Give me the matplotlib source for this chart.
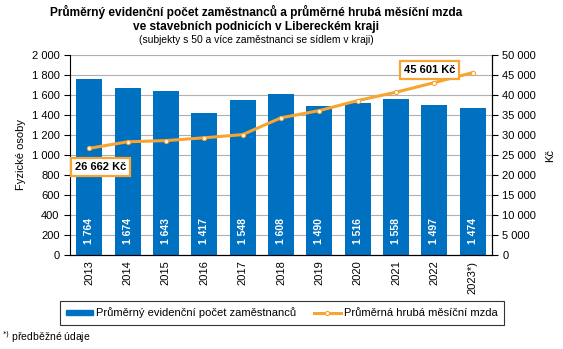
import numpy as np
import matplotlib
matplotlib.use("Agg")
import matplotlib.pyplot as plt

plt.rcParams['font.family'] = ['Liberation Sans', 'DejaVu Sans']

years = ["2013", "2014", "2015", "2016", "2017", "2018", "2019", "2020", "2021", "2022", "2023*)"]
employees = [1764, 1674, 1643, 1417, 1548, 1608, 1490, 1516, 1558, 1497, 1474]
wage = [26662, 28300, 28600, 29300, 30100, 34300, 36100, 38600, 40700, 43100, 45601]

bar_color = "#0070C0"
line_color = "#F7A432"

def fmt(v):
    return "{:,}".format(int(v)).replace(",", " ")

fig = plt.figure(figsize=(5.63, 3.49), dpi=100)
ax = fig.add_axes([70/563, 1-255/349, 422/563, 200/349])
ax2 = ax.twinx()

x = np.arange(len(years))
bars = ax.bar(x, employees, width=0.68, color=bar_color, zorder=2)
for xi, v in zip(x, employees):
    ax.text(xi, 110, fmt(v), rotation=90, ha="center", va="bottom", color="white",
            fontsize=7.5, fontweight="bold", zorder=3)

ax.set_ylim(0, 2000)
ax.set_yticks(np.arange(0, 2001, 200))
ax.set_yticklabels([fmt(v) for v in np.arange(0, 2001, 200)], fontsize=8)
ax.set_xlim(-0.5, len(years) - 0.5)
ax.set_xticks(x)
ax.set_xticklabels(years, rotation=90, fontsize=8)
ax.grid(axis="y", color="#B0B0B0", linewidth=0.8, zorder=0)
ax.set_axisbelow(True)
ax.set_ylabel("Fyzické osoby", fontsize=8, labelpad=4)
ax.tick_params(axis="x", length=0, pad=4)
ax.tick_params(axis="y", length=4, direction="out")

ln, = ax2.plot(x, wage, color=line_color, linewidth=2.2, marker="o", markersize=3,
               markerfacecolor="white", markeredgecolor=line_color, markeredgewidth=0.8,
               zorder=4)
ax2.set_ylim(0, 50000)
ax2.set_yticks(np.arange(0, 50001, 5000))
ax2.set_yticklabels([fmt(v) for v in np.arange(0, 50001, 5000)], fontsize=8)
ax2.set_ylabel("Kč", fontsize=8, labelpad=6)
ax2.tick_params(axis="y", length=4, direction="out")

ax.spines["top"].set_visible(False)
ax2.spines["top"].set_visible(False)
ax2.spines["left"].set_visible(False)

box = dict(boxstyle="square,pad=0.35", facecolor="white", edgecolor=line_color, linewidth=1.6)
ax2.text(0.3, 22000, fmt(wage[0]) + " Kč", ha="center", va="center", fontsize=8,
         fontweight="bold", bbox=box, zorder=5)
ax2.text(8.87, 46300, fmt(wage[-1]) + " Kč", ha="center", va="center", fontsize=8,
         fontweight="bold", bbox=box, zorder=5)

fig.text(256/563, 1-12/349, "Průměrný evidenční počet zaměstnanců a průměrné hrubá měsíční mzda",
         ha="center", va="center", fontsize=8.6, fontweight="bold")
fig.text(256/563, 1-27/349, "ve stavebních podnicích v Libereckém kraji",
         ha="center", va="center", fontsize=8.6, fontweight="bold")
fig.text(256/563, 1-40/349, "(subjekty s 50 a více zaměstnanci se sídlem v kraji)",
         ha="center", va="center", fontsize=7.4)

handles = [plt.Rectangle((0, 0), 1, 1, color=bar_color), ln]
labels = ["Průměrný evidenční počet zaměstnanců", "Průměrná hrubá měsíční mzda"]
leg = fig.legend(handles, labels, loc="center", bbox_to_anchor=(282/563, 1-313/349),
                 ncol=2, fontsize=8, frameon=True, fancybox=False, edgecolor="black",
                 handlelength=2.4, handleheight=0.4, handletextpad=0.3, numpoints=1,
                 columnspacing=1.6, borderpad=0.55, borderaxespad=0)
leg.get_frame().set_linewidth(0.8)

fig.text(2/563, 1-337/349, "$^{*)}$ předběžné údaje", ha="left", va="center", fontsize=7.5)

fig.savefig("out.png", dpi=100)
